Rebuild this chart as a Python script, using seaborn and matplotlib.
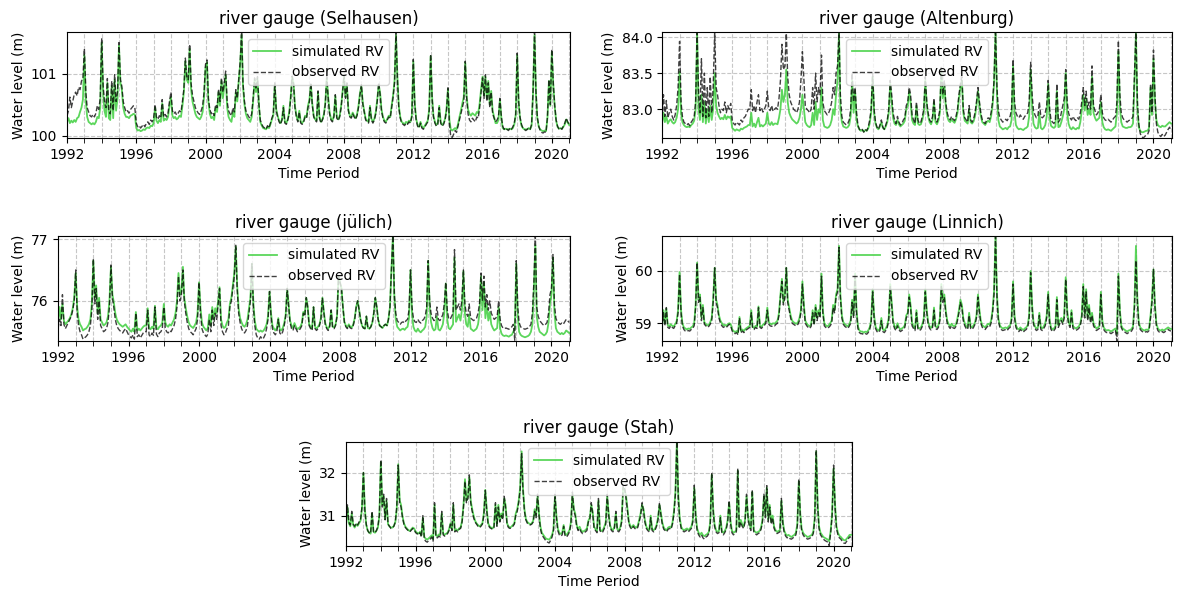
"""
5개 하천 수위 관측소의 모의(simulated) / 관측(observed) 수위 비교 그림.
값은 원본 그림에서 월 단위로 읽어낸 추정치입니다.
"""
import pandas as pd
import matplotlib.pyplot as plt
import matplotlib.dates as mdates
import seaborn as sns

# ---- 월별 수위 (1992-01 ~ 2021-01), 연도별 12개 값 ----------------------
selhausen_obs = [
    [100.32, 100.40, 100.62, 100.45, 100.55, 100.66, 100.70, 100.64, 100.78, 100.74, 100.88, 100.92],
    [101.40, 100.70, 100.45, 100.38, 100.32, 100.30, 100.34, 100.30, 100.36, 100.48, 100.42, 100.60],
    [101.57, 100.80, 100.55, 100.45, 100.92, 100.40, 100.35, 100.88, 100.40, 100.98, 100.55, 100.70],
    [101.50, 100.90, 100.80, 100.55, 100.45, 100.38, 100.40, 100.36, 100.42, 100.45, 100.48, 100.45],
    [100.20, 100.14, 100.16, 100.12, 100.15, 100.18, 100.14, 100.20, 100.22, 100.18, 100.25, 100.22],
    [100.28, 100.50, 100.30, 100.26, 100.32, 100.28, 100.58, 100.30, 100.34, 100.30, 100.36, 100.55],
    [100.70, 100.40, 100.35, 100.38, 100.33, 100.36, 100.40, 100.38, 100.55, 100.75, 101.25, 100.95],
    [100.90, 101.47, 100.85, 100.65, 100.55, 100.45, 100.40, 100.36, 100.34, 100.40, 100.48, 100.70],
    [101.15, 101.22, 100.60, 100.42, 100.35, 100.38, 100.32, 100.50, 100.45, 100.75, 100.55, 100.93],
    [100.70, 100.85, 101.04, 100.55, 100.40, 100.35, 100.32, 100.45, 100.38, 100.74, 100.60, 100.90],
    [101.20, 101.67, 100.85, 100.55, 100.40, 100.35, 100.30, 100.28, 100.35, 100.60, 100.93, 100.75],
    [100.95, 100.50, 100.25, 100.18, 100.14, 100.12, 100.10, 100.16, 100.12, 100.20, 100.28, 100.35],
    [100.85, 100.40, 100.30, 100.22, 100.18, 100.25, 100.45, 100.20, 100.18, 100.25, 100.35, 100.60],
    [100.96, 100.82, 100.45, 100.30, 100.22, 100.38, 100.20, 100.18, 100.22, 100.30, 100.28, 100.45],
    [100.55, 100.85, 100.50, 100.30, 100.25, 100.22, 100.72, 100.28, 100.20, 100.25, 100.32, 100.50],
    [100.95, 100.60, 100.35, 100.25, 100.22, 100.30, 100.66, 100.28, 100.24, 100.30, 100.45, 100.70],
    [100.98, 100.60, 100.85, 100.40, 100.30, 100.28, 100.35, 100.30, 100.26, 100.32, 100.45, 100.65],
    [100.82, 100.50, 100.38, 100.25, 100.22, 100.20, 100.45, 100.25, 100.20, 100.25, 100.35, 100.55],
    [100.85, 100.65, 100.40, 100.28, 100.22, 100.20, 100.25, 100.30, 100.28, 100.45, 100.62, 100.85],
    [101.67, 100.90, 100.45, 100.28, 100.20, 100.18, 100.16, 100.20, 100.18, 100.22, 100.20, 100.30],
    [101.23, 100.50, 100.25, 100.15, 100.12, 100.20, 100.12, 100.10, 100.14, 100.18, 100.22, 100.40],
    [101.31, 100.60, 100.30, 100.20, 100.15, 100.18, 100.45, 100.20, 100.15, 100.18, 100.25, 100.40],
    [100.77, 100.20, 99.98, 99.97, 100.02, 100.08, 100.05, 100.15, 100.25, 100.35, 100.45, 100.55],
    [101.20, 100.60, 100.35, 100.25, 100.22, 100.28, 100.25, 100.22, 100.30, 100.28, 100.45, 100.70],
    [100.93, 100.60, 100.98, 100.55, 100.85, 100.45, 100.70, 100.35, 100.28, 100.22, 100.25, 100.30],
    [100.60, 100.30, 100.15, 100.10, 100.12, 100.10, 100.08, 100.12, 100.10, 100.14, 100.20, 100.35],
    [101.33, 100.55, 100.30, 100.18, 100.12, 100.10, 100.08, 100.10, 100.12, 100.10, 100.18, 100.70],
    [101.67, 100.70, 100.30, 100.15, 100.08, 100.05, 100.04, 100.06, 100.05, 100.30, 100.90, 100.50],
    [101.39, 100.85, 100.50, 100.25, 100.15, 100.10, 100.12, 100.10, 100.15, 100.20, 100.28, 100.22],
    [100.18],
]
selhausen_sim = [
    [100.22, 100.28, 100.20, 100.24, 100.21, 100.25, 100.22, 100.28, 100.30, 100.38, 100.45, 100.58],
    [101.30, 100.55, 100.30, 100.22, 100.20, 100.18, 100.20, 100.18, 100.22, 100.30, 100.28, 100.45],
    [101.50, 100.70, 100.40, 100.30, 100.85, 100.28, 100.25, 100.80, 100.28, 100.90, 100.40, 100.60],
    [101.45, 100.85, 100.75, 100.45, 100.35, 100.30, 100.30, 100.28, 100.32, 100.33, 100.35, 100.34],
    [100.12, 100.08, 100.09, 100.07, 100.08, 100.10, 100.09, 100.12, 100.13, 100.12, 100.16, 100.15],
    [100.20, 100.45, 100.24, 100.20, 100.25, 100.22, 100.52, 100.24, 100.27, 100.25, 100.30, 100.48],
    [100.62, 100.32, 100.28, 100.30, 100.26, 100.28, 100.32, 100.30, 100.48, 100.70, 101.20, 100.90],
    [100.85, 101.40, 100.75, 100.55, 100.45, 100.35, 100.30, 100.28, 100.26, 100.30, 100.38, 100.62],
    [101.10, 101.18, 100.55, 100.35, 100.28, 100.30, 100.25, 100.45, 100.38, 100.70, 100.48, 100.88],
    [100.60, 100.80, 100.98, 100.45, 100.30, 100.25, 100.22, 100.38, 100.30, 100.70, 100.55, 100.88],
    [101.15, 101.62, 100.80, 100.50, 100.35, 100.28, 100.25, 100.22, 100.30, 100.55, 100.90, 100.70],
    [100.92, 100.48, 100.22, 100.16, 100.12, 100.11, 100.10, 100.14, 100.12, 100.18, 100.26, 100.32],
    [100.82, 100.42, 100.32, 100.24, 100.20, 100.26, 100.48, 100.22, 100.20, 100.26, 100.38, 100.62],
    [100.94, 100.84, 100.48, 100.32, 100.24, 100.40, 100.22, 100.20, 100.24, 100.32, 100.30, 100.48],
    [100.58, 100.82, 100.52, 100.32, 100.26, 100.24, 100.70, 100.30, 100.22, 100.26, 100.34, 100.52],
    [100.92, 100.62, 100.38, 100.27, 100.24, 100.32, 100.64, 100.30, 100.26, 100.32, 100.48, 100.72],
    [100.95, 100.62, 100.82, 100.42, 100.32, 100.30, 100.37, 100.32, 100.28, 100.34, 100.48, 100.68],
    [100.80, 100.52, 100.40, 100.27, 100.24, 100.22, 100.48, 100.27, 100.22, 100.27, 100.38, 100.58],
    [100.82, 100.68, 100.42, 100.30, 100.24, 100.22, 100.27, 100.32, 100.30, 100.48, 100.65, 100.88],
    [101.62, 100.92, 100.48, 100.30, 100.22, 100.20, 100.18, 100.22, 100.20, 100.24, 100.22, 100.32],
    [101.20, 100.52, 100.27, 100.17, 100.14, 100.22, 100.14, 100.12, 100.16, 100.20, 100.24, 100.42],
    [101.28, 100.62, 100.32, 100.22, 100.17, 100.20, 100.48, 100.22, 100.17, 100.20, 100.27, 100.42],
    [100.75, 100.25, 100.10, 100.08, 100.10, 100.12, 100.10, 100.18, 100.30, 100.40, 100.52, 100.62],
    [101.18, 100.62, 100.42, 100.35, 100.32, 100.36, 100.34, 100.32, 100.38, 100.36, 100.52, 100.75],
    [100.95, 100.65, 100.95, 100.60, 100.88, 100.50, 100.72, 100.40, 100.30, 100.20, 100.20, 100.25],
    [100.58, 100.28, 100.12, 100.10, 100.11, 100.10, 100.10, 100.11, 100.10, 100.12, 100.18, 100.33],
    [101.30, 100.52, 100.28, 100.16, 100.12, 100.10, 100.10, 100.10, 100.12, 100.10, 100.16, 100.68],
    [101.62, 100.68, 100.28, 100.14, 100.10, 100.08, 100.07, 100.08, 100.07, 100.28, 100.88, 100.48],
    [101.35, 100.82, 100.48, 100.24, 100.14, 100.11, 100.12, 100.11, 100.14, 100.18, 100.26, 100.21],
    [100.17],
]

altenburg_obs = [
    [82.85, 83.20, 82.90, 83.12, 82.88, 82.95, 83.00, 82.90, 82.85, 82.92, 83.05, 83.30],
    [83.94, 83.10, 82.90, 82.82, 82.80, 82.78, 82.80, 82.77, 82.82, 82.85, 82.90, 83.10],
    [84.06, 83.20, 82.95, 83.70, 82.90, 83.50, 82.88, 83.30, 82.90, 83.45, 82.95, 83.30],
    [84.06, 83.30, 83.20, 83.05, 82.95, 83.00, 82.98, 83.10, 82.95, 83.05, 83.00, 83.08],
    [82.85, 82.80, 82.78, 82.82, 82.80, 82.78, 82.85, 82.82, 82.88, 82.90, 82.95, 83.00],
    [83.00, 83.27, 82.98, 83.05, 82.95, 83.10, 83.20, 82.98, 83.02, 82.96, 83.00, 83.05],
    [83.25, 83.00, 82.98, 83.05, 82.97, 83.00, 83.02, 83.00, 83.15, 83.40, 83.90, 83.55],
    [83.60, 84.05, 83.45, 83.20, 83.10, 83.05, 83.00, 82.98, 82.95, 83.00, 83.10, 83.40],
    [83.80, 83.40, 83.05, 83.00, 82.98, 82.95, 83.00, 83.30, 83.00, 83.50, 83.10, 83.30],
    [83.20, 83.75, 83.10, 82.98, 82.95, 82.92, 82.95, 83.00, 83.10, 83.30, 83.20, 83.50],
    [83.60, 84.06, 83.20, 82.90, 82.82, 82.80, 82.78, 82.80, 82.85, 83.00, 83.50, 83.10],
    [83.30, 82.95, 82.78, 82.72, 82.70, 82.72, 82.68, 82.72, 82.70, 82.75, 82.85, 83.00],
    [83.50, 83.00, 82.82, 82.75, 82.72, 82.78, 82.85, 82.75, 82.72, 82.78, 82.85, 83.00],
    [83.40, 83.20, 82.95, 82.85, 82.80, 82.90, 82.82, 82.78, 82.80, 82.85, 82.88, 83.05],
    [83.10, 83.30, 83.20, 82.92, 82.85, 82.80, 83.10, 82.85, 82.80, 82.82, 82.90, 83.00],
    [83.45, 83.10, 82.95, 82.85, 82.82, 82.90, 83.15, 82.85, 82.82, 82.88, 83.00, 83.60],
    [83.20, 83.40, 83.10, 82.95, 82.88, 82.85, 82.90, 82.86, 82.84, 82.90, 83.00, 83.20],
    [83.35, 83.45, 83.00, 82.88, 82.85, 82.82, 83.05, 82.85, 82.82, 82.86, 82.95, 83.10],
    [83.30, 83.10, 82.95, 82.85, 82.82, 82.80, 82.85, 82.88, 82.86, 82.95, 83.10, 83.40],
    [84.06, 83.30, 82.98, 82.88, 82.85, 82.82, 82.84, 82.86, 82.84, 82.88, 82.90, 83.00],
    [83.69, 83.10, 82.95, 82.90, 82.88, 82.92, 82.88, 82.86, 82.90, 82.92, 82.95, 83.10],
    [83.65, 83.20, 82.98, 82.92, 82.88, 82.90, 83.10, 82.90, 82.88, 82.90, 82.95, 83.05],
    [83.40, 83.00, 82.85, 82.82, 82.80, 82.85, 83.35, 82.82, 82.85, 82.95, 83.05, 83.15],
    [83.55, 83.10, 82.95, 82.88, 82.85, 82.90, 82.86, 82.84, 82.88, 82.86, 82.95, 83.10],
    [83.30, 83.05, 83.25, 83.00, 83.10, 83.00, 83.60, 83.05, 82.98, 82.92, 82.95, 83.00],
    [83.20, 82.95, 82.88, 82.85, 82.84, 82.86, 82.84, 82.82, 82.85, 82.88, 82.90, 83.10],
    [83.95, 83.20, 82.95, 82.88, 82.85, 82.84, 82.82, 82.84, 82.85, 82.86, 82.90, 83.45],
    [84.06, 83.10, 82.80, 82.66, 82.62, 82.60, 82.62, 82.64, 82.65, 82.70, 83.35, 82.95],
    [83.82, 83.20, 82.80, 82.68, 82.64, 82.62, 82.65, 82.62, 82.64, 82.68, 82.72, 82.75],
    [82.70],
]
altenburg_sim = [
    [82.80, 82.95, 82.82, 82.90, 82.80, 82.84, 82.86, 82.82, 82.80, 82.82, 82.88, 83.00],
    [83.52, 82.95, 82.82, 82.78, 82.76, 82.75, 82.76, 82.75, 82.78, 82.80, 82.84, 83.00],
    [84.06, 83.00, 82.85, 83.20, 82.82, 83.10, 82.80, 83.00, 82.82, 83.05, 82.85, 83.00],
    [83.50, 83.05, 82.95, 82.90, 82.86, 82.88, 82.86, 82.92, 82.86, 82.90, 82.88, 82.90],
    [82.74, 82.72, 82.70, 82.72, 82.71, 82.70, 82.73, 82.72, 82.74, 82.75, 82.76, 82.78],
    [82.78, 82.95, 82.76, 82.80, 82.75, 82.82, 82.88, 82.76, 82.78, 82.76, 82.78, 82.80],
    [82.95, 82.80, 82.78, 82.82, 82.78, 82.80, 82.80, 82.79, 82.88, 83.00, 83.27, 83.10],
    [83.20, 83.55, 83.10, 82.95, 82.90, 82.86, 82.84, 82.82, 82.80, 82.82, 82.88, 83.00],
    [83.20, 83.00, 82.82, 82.78, 82.76, 82.75, 82.78, 82.95, 82.78, 83.10, 82.85, 83.00],
    [82.95, 83.30, 82.85, 82.76, 82.75, 82.74, 82.75, 82.78, 82.85, 83.00, 82.92, 83.20],
    [83.40, 84.06, 83.00, 82.82, 82.76, 82.75, 82.74, 82.75, 82.78, 82.90, 83.40, 82.95],
    [83.25, 82.85, 82.76, 82.72, 82.70, 82.71, 82.69, 82.71, 82.70, 82.73, 82.80, 82.95],
    [83.45, 82.95, 82.80, 82.74, 82.72, 82.76, 82.82, 82.74, 82.72, 82.76, 82.82, 82.95],
    [83.35, 83.10, 82.88, 82.80, 82.78, 82.85, 82.79, 82.76, 82.78, 82.80, 82.84, 83.00],
    [83.05, 83.25, 83.10, 82.85, 82.80, 82.78, 83.05, 82.80, 82.78, 82.79, 82.85, 82.95],
    [83.40, 83.05, 82.90, 82.82, 82.79, 82.85, 83.10, 82.82, 82.79, 82.84, 82.95, 83.55],
    [83.15, 83.35, 83.05, 82.90, 82.84, 82.82, 82.86, 82.83, 82.81, 82.86, 82.95, 83.15],
    [83.30, 83.40, 82.95, 82.84, 82.82, 82.80, 83.00, 82.82, 82.80, 82.83, 82.90, 83.05],
    [83.25, 83.05, 82.90, 82.82, 82.80, 82.78, 82.82, 82.84, 82.82, 82.90, 83.05, 83.35],
    [84.06, 83.20, 82.85, 82.76, 82.74, 82.72, 82.73, 82.74, 82.72, 82.75, 82.76, 82.85],
    [83.60, 82.95, 82.78, 82.74, 82.72, 82.73, 82.72, 82.71, 82.73, 82.74, 82.76, 82.90],
    [83.55, 83.05, 82.80, 82.75, 82.73, 82.74, 82.95, 82.74, 82.72, 82.74, 82.78, 82.90],
    [83.35, 82.88, 82.77, 82.75, 82.74, 82.76, 83.25, 82.75, 82.76, 82.82, 82.90, 83.00],
    [83.50, 82.95, 82.80, 82.74, 82.72, 82.75, 82.73, 82.72, 82.74, 82.73, 82.82, 82.98],
    [83.20, 82.98, 83.15, 82.92, 83.00, 82.92, 83.45, 82.95, 82.88, 82.84, 82.86, 82.88],
    [83.10, 82.82, 82.75, 82.72, 82.71, 82.72, 82.71, 82.70, 82.72, 82.74, 82.76, 82.95],
    [83.80, 83.05, 82.82, 82.76, 82.75, 82.74, 82.74, 82.75, 82.75, 82.76, 82.80, 83.35],
    [84.06, 83.00, 82.75, 82.70, 82.68, 82.68, 82.69, 82.70, 82.70, 82.74, 83.30, 82.92],
    [83.70, 83.10, 82.85, 82.78, 82.76, 82.75, 82.77, 82.76, 82.76, 82.78, 82.80, 82.82],
    [82.80],
]

juelich_obs = [
    [75.55, 75.70, 75.60, 76.10, 75.62, 75.55, 75.60, 75.65, 75.70, 75.75, 75.85, 76.00],
    [76.50, 75.80, 75.60, 75.50, 75.45, 75.38, 75.40, 75.42, 75.45, 75.50, 75.60, 75.85],
    [76.68, 75.95, 76.20, 75.70, 76.00, 75.60, 75.55, 75.50, 75.52, 75.55, 75.65, 75.90],
    [76.58, 76.05, 75.90, 75.70, 75.60, 75.55, 75.52, 75.50, 75.48, 75.52, 75.55, 75.50],
    [75.45, 75.42, 75.40, 75.45, 75.38, 75.80, 75.42, 75.45, 75.40, 75.44, 75.48, 75.50],
    [75.50, 75.85, 75.45, 75.42, 75.48, 75.44, 75.90, 75.46, 75.42, 75.48, 75.50, 75.55],
    [75.90, 75.55, 75.50, 75.48, 75.52, 75.50, 75.55, 75.60, 75.70, 75.90, 76.40, 76.00],
    [76.10, 76.50, 76.00, 75.80, 75.65, 75.55, 75.50, 75.48, 75.45, 75.50, 75.55, 75.70],
    [76.30, 75.80, 75.55, 75.48, 75.45, 75.42, 75.46, 75.70, 75.50, 75.85, 75.60, 75.80],
    [75.70, 75.95, 76.20, 75.60, 75.50, 75.45, 75.48, 75.55, 75.60, 75.90, 76.00, 76.20],
    [76.40, 76.90, 76.20, 75.80, 75.65, 75.55, 75.50, 75.48, 75.52, 75.60, 75.80, 76.00],
    [76.60, 75.90, 75.60, 75.45, 75.40, 75.38, 75.42, 75.38, 75.40, 75.45, 75.55, 75.70],
    [76.15, 75.75, 75.55, 75.48, 75.45, 75.50, 75.70, 75.48, 75.45, 75.50, 75.60, 75.75],
    [76.20, 75.90, 75.65, 75.55, 75.52, 75.60, 75.55, 75.50, 75.52, 75.55, 75.60, 75.80],
    [75.75, 76.05, 75.90, 75.60, 75.55, 75.52, 75.90, 75.55, 75.52, 75.55, 75.60, 75.70],
    [76.05, 75.80, 75.62, 75.55, 75.52, 75.58, 75.85, 75.56, 75.55, 75.60, 75.75, 76.40],
    [76.30, 76.20, 75.90, 75.65, 75.58, 75.55, 75.60, 75.56, 75.55, 75.60, 75.70, 75.90],
    [76.00, 75.85, 75.70, 75.60, 75.56, 75.55, 75.75, 75.56, 75.55, 75.58, 75.65, 75.80],
    [76.05, 75.90, 75.70, 75.60, 75.58, 75.56, 75.60, 75.62, 75.60, 75.70, 75.90, 76.50],
    [77.05, 76.10, 75.80, 75.68, 75.65, 75.62, 75.65, 75.66, 75.64, 75.68, 75.70, 75.85],
    [76.50, 75.90, 75.72, 75.66, 75.65, 75.70, 75.66, 75.64, 75.68, 75.70, 75.75, 75.90],
    [76.65, 76.00, 75.80, 75.72, 75.68, 75.70, 75.90, 75.70, 75.68, 75.72, 75.78, 75.95],
    [76.30, 75.85, 75.72, 75.70, 75.75, 75.80, 76.83, 75.85, 75.90, 75.95, 75.85, 76.00],
    [76.50, 75.95, 75.80, 75.75, 75.95, 75.72, 75.70, 75.68, 75.70, 75.72, 75.80, 75.95],
    [76.45, 76.00, 76.40, 75.90, 76.10, 75.85, 76.00, 75.80, 75.75, 75.70, 75.72, 75.75],
    [76.00, 75.70, 75.60, 75.56, 75.55, 75.56, 75.55, 75.54, 75.56, 75.58, 75.62, 75.36],
    [76.65, 75.90, 75.65, 75.58, 75.56, 75.55, 75.54, 75.55, 75.56, 75.58, 75.62, 75.80],
    [76.30, 77.05, 75.90, 75.75, 75.68, 75.65, 75.62, 75.60, 75.62, 75.65, 75.80, 76.10],
    [76.20, 76.75, 75.95, 75.72, 75.66, 75.64, 75.62, 75.64, 75.62, 75.66, 75.70, 75.68],
    [75.65],
]
juelich_sim = [
    [75.65, 75.90, 75.70, 75.95, 75.68, 75.62, 75.65, 75.68, 75.72, 75.78, 75.88, 76.05],
    [76.45, 75.90, 75.70, 75.62, 75.58, 75.52, 75.54, 75.55, 75.58, 75.62, 75.70, 75.95],
    [76.65, 76.05, 76.25, 75.80, 76.05, 75.70, 75.65, 75.60, 75.62, 75.65, 75.75, 76.00],
    [76.55, 76.10, 75.98, 75.80, 75.70, 75.65, 75.62, 75.60, 75.58, 75.60, 75.62, 75.58],
    [75.55, 75.52, 75.50, 75.55, 75.50, 75.82, 75.52, 75.55, 75.52, 75.55, 75.58, 75.60],
    [75.60, 75.88, 75.56, 75.54, 75.58, 75.55, 75.92, 75.56, 75.54, 75.58, 75.60, 75.65],
    [75.95, 75.65, 75.60, 75.58, 75.62, 75.60, 75.65, 75.70, 75.80, 76.00, 76.45, 76.10],
    [76.15, 76.55, 76.05, 75.88, 75.75, 75.65, 75.60, 75.58, 75.56, 75.60, 75.65, 75.80],
    [76.30, 75.88, 75.65, 75.58, 75.55, 75.52, 75.56, 75.78, 75.60, 75.90, 75.70, 75.88],
    [75.80, 76.00, 76.22, 75.70, 75.60, 75.56, 75.58, 75.65, 75.70, 75.95, 76.05, 76.25],
    [76.45, 76.88, 76.25, 75.88, 75.72, 75.65, 75.60, 75.58, 75.62, 75.70, 75.88, 76.05],
    [76.60, 75.95, 75.68, 75.55, 75.52, 75.50, 75.52, 75.50, 75.52, 75.56, 75.62, 75.75],
    [76.15, 75.80, 75.60, 75.55, 75.52, 75.56, 75.72, 75.54, 75.52, 75.56, 75.64, 75.78],
    [76.20, 75.92, 75.68, 75.60, 75.56, 75.64, 75.58, 75.54, 75.56, 75.58, 75.64, 75.82],
    [75.78, 76.05, 75.92, 75.62, 75.58, 75.55, 75.90, 75.58, 75.55, 75.58, 75.62, 75.72],
    [76.05, 75.82, 75.64, 75.57, 75.55, 75.60, 75.85, 75.58, 75.57, 75.62, 75.76, 76.40],
    [76.30, 76.20, 75.90, 75.66, 75.60, 75.57, 75.62, 75.58, 75.57, 75.62, 75.72, 75.90],
    [76.00, 75.85, 75.70, 75.60, 75.56, 75.55, 75.75, 75.56, 75.55, 75.58, 75.65, 75.80],
    [76.05, 75.90, 75.70, 75.60, 75.58, 75.56, 75.60, 75.62, 75.60, 75.70, 75.90, 76.50],
    [77.05, 76.05, 75.70, 75.58, 75.55, 75.52, 75.54, 75.55, 75.53, 75.56, 75.58, 75.72],
    [76.50, 75.80, 75.58, 75.52, 75.50, 75.55, 75.51, 75.49, 75.52, 75.54, 75.58, 75.75],
    [76.65, 75.90, 75.66, 75.56, 75.52, 75.54, 75.75, 75.54, 75.52, 75.56, 75.62, 75.80],
    [76.28, 75.70, 75.56, 75.54, 75.58, 75.62, 76.70, 75.66, 75.72, 75.78, 75.68, 75.85],
    [76.48, 75.80, 75.62, 75.58, 75.78, 75.55, 75.53, 75.51, 75.53, 75.55, 75.62, 75.80],
    [76.40, 75.85, 76.30, 75.72, 75.95, 75.68, 75.82, 75.62, 75.56, 75.52, 75.54, 75.56],
    [75.90, 75.55, 75.47, 75.44, 75.43, 75.44, 75.43, 75.42, 75.44, 75.45, 75.50, 75.55],
    [76.60, 75.75, 75.50, 75.45, 75.43, 75.42, 75.41, 75.42, 75.43, 75.45, 75.50, 75.62],
    [76.20, 76.90, 75.75, 75.58, 75.50, 75.48, 75.46, 75.44, 75.46, 75.50, 75.65, 75.95],
    [76.10, 76.70, 75.82, 75.56, 75.50, 75.48, 75.46, 75.48, 75.46, 75.48, 75.52, 75.50],
    [75.48],
]

linnich_obs = [
    [58.90, 59.20, 58.95, 59.30, 58.92, 58.90, 58.95, 58.92, 58.90, 58.95, 59.00, 59.20],
    [59.94, 59.20, 58.95, 58.88, 58.85, 58.84, 58.86, 58.85, 58.88, 58.90, 58.95, 59.30],
    [60.16, 59.40, 59.50, 59.05, 59.30, 58.98, 58.95, 58.92, 58.94, 58.98, 59.05, 59.40],
    [60.06, 59.40, 59.30, 59.10, 59.00, 58.95, 58.92, 58.94, 58.92, 58.95, 58.98, 58.95],
    [58.85, 58.82, 58.80, 58.82, 58.78, 59.10, 58.82, 58.85, 58.82, 58.86, 58.88, 58.90],
    [58.92, 59.20, 58.90, 58.88, 58.92, 58.90, 59.30, 58.92, 58.90, 58.94, 58.96, 59.00],
    [59.25, 58.98, 58.95, 58.94, 58.96, 58.95, 58.98, 59.00, 59.15, 59.50, 59.80, 59.35],
    [59.50, 60.06, 59.40, 59.25, 59.10, 59.00, 58.98, 58.96, 58.95, 58.98, 59.05, 59.20],
    [59.75, 59.30, 59.00, 58.95, 58.92, 58.90, 58.94, 59.20, 58.96, 59.30, 59.05, 59.20],
    [59.10, 59.90, 59.20, 58.95, 58.92, 58.90, 58.92, 58.95, 59.00, 59.30, 59.20, 59.50],
    [59.60, 60.45, 59.50, 59.10, 58.98, 58.94, 58.92, 58.90, 58.94, 59.00, 59.40, 59.10],
    [59.90, 59.20, 58.90, 58.82, 58.80, 58.80, 58.78, 58.80, 58.79, 58.82, 58.88, 59.00],
    [59.60, 59.10, 58.90, 58.84, 58.82, 58.86, 59.05, 58.84, 58.82, 58.86, 58.92, 59.05],
    [59.70, 59.35, 59.00, 58.90, 58.86, 58.95, 58.88, 58.84, 58.86, 58.88, 58.92, 59.10],
    [59.15, 59.50, 59.30, 58.95, 58.90, 58.86, 59.20, 58.88, 58.86, 58.88, 58.94, 59.05],
    [59.60, 59.20, 58.98, 58.90, 58.87, 58.92, 59.25, 58.90, 58.88, 58.92, 59.05, 59.70],
    [59.40, 59.50, 59.20, 59.00, 58.94, 58.90, 58.95, 58.91, 58.90, 58.94, 59.05, 59.20],
    [59.40, 59.30, 59.05, 58.95, 58.90, 58.88, 59.15, 58.90, 58.88, 58.92, 58.98, 59.10],
    [59.50, 59.20, 59.00, 58.92, 58.90, 58.88, 58.92, 58.95, 58.93, 59.00, 59.20, 59.55],
    [60.66, 59.50, 59.05, 58.92, 58.88, 58.86, 58.87, 58.88, 58.86, 58.90, 58.92, 59.05],
    [59.75, 59.10, 58.92, 58.86, 58.84, 58.88, 58.85, 58.83, 58.86, 58.88, 58.92, 59.10],
    [59.97, 59.30, 58.98, 58.90, 58.86, 58.88, 59.15, 58.88, 58.86, 58.90, 58.95, 59.10],
    [59.55, 59.00, 58.88, 58.84, 58.86, 58.90, 59.45, 58.92, 59.00, 59.05, 58.98, 59.10],
    [59.84, 59.20, 58.98, 58.92, 59.20, 58.90, 58.88, 58.86, 58.88, 58.90, 58.96, 59.10],
    [59.70, 59.10, 59.60, 59.05, 59.30, 59.00, 59.15, 58.95, 58.90, 58.86, 58.88, 58.90],
    [59.55, 59.00, 58.88, 58.84, 58.82, 58.83, 58.82, 58.80, 58.82, 58.84, 58.86, 58.66],
    [59.90, 59.20, 58.92, 58.86, 58.84, 58.82, 58.80, 58.82, 58.83, 58.85, 58.90, 59.30],
    [60.20, 59.40, 58.98, 58.88, 58.85, 58.83, 58.82, 58.84, 58.83, 58.86, 59.10, 59.40],
    [60.03, 59.30, 58.95, 58.86, 58.83, 58.82, 58.84, 58.82, 58.84, 58.86, 58.88, 58.86],
    [58.85],
]
linnich_sim = [
    [58.95, 59.25, 59.00, 59.28, 58.96, 58.94, 58.98, 58.95, 58.94, 58.98, 59.04, 59.25],
    [59.98, 59.25, 59.00, 58.92, 58.90, 58.88, 58.90, 58.89, 58.92, 58.94, 59.00, 59.35],
    [60.16, 59.45, 59.55, 59.10, 59.35, 59.02, 58.98, 58.96, 58.97, 59.02, 59.10, 59.45],
    [60.06, 59.45, 59.35, 59.15, 59.05, 59.00, 58.96, 58.97, 58.95, 58.98, 59.00, 58.98],
    [58.88, 58.85, 58.83, 58.85, 58.82, 59.12, 58.85, 58.88, 58.85, 58.89, 58.91, 58.93],
    [58.95, 59.25, 58.93, 58.91, 58.95, 58.93, 59.32, 58.95, 58.93, 58.97, 58.99, 59.04],
    [59.30, 59.02, 58.99, 58.98, 59.00, 58.99, 59.02, 59.05, 59.20, 59.55, 59.85, 59.40],
    [59.55, 60.06, 59.45, 59.30, 59.15, 59.05, 59.02, 59.00, 58.99, 59.02, 59.10, 59.25],
    [59.80, 59.35, 59.05, 58.99, 58.96, 58.94, 58.98, 59.25, 59.00, 59.35, 59.10, 59.25],
    [59.15, 59.95, 59.25, 59.00, 58.96, 58.94, 58.96, 59.00, 59.05, 59.35, 59.25, 59.55],
    [59.65, 60.48, 59.55, 59.15, 59.02, 58.98, 58.96, 58.94, 58.98, 59.05, 59.45, 59.15],
    [59.95, 59.25, 58.94, 58.86, 58.84, 58.84, 58.82, 58.84, 58.83, 58.86, 58.92, 59.05],
    [59.65, 59.15, 58.94, 58.88, 58.86, 58.90, 59.10, 58.88, 58.86, 58.90, 58.96, 59.10],
    [59.75, 59.40, 59.05, 58.94, 58.90, 59.00, 58.92, 58.88, 58.90, 58.92, 58.96, 59.15],
    [59.20, 59.55, 59.35, 59.00, 58.94, 58.90, 59.25, 58.92, 58.90, 58.92, 58.98, 59.10],
    [59.65, 59.25, 59.02, 58.94, 58.91, 58.96, 59.30, 58.94, 58.92, 58.96, 59.10, 59.75],
    [59.45, 59.55, 59.25, 59.05, 58.98, 58.94, 58.99, 58.95, 58.94, 58.98, 59.10, 59.25],
    [59.45, 59.35, 59.10, 59.00, 58.94, 58.92, 59.20, 58.94, 58.92, 58.96, 59.02, 59.15],
    [59.55, 59.25, 59.05, 58.96, 58.94, 58.92, 58.96, 58.99, 58.97, 59.05, 59.25, 59.60],
    [60.66, 59.55, 59.10, 58.96, 58.92, 58.90, 58.91, 58.92, 58.90, 58.94, 58.96, 59.10],
    [59.80, 59.15, 58.96, 58.90, 58.88, 58.92, 58.89, 58.87, 58.90, 58.92, 58.96, 59.15],
    [60.00, 59.35, 59.02, 58.94, 58.90, 58.92, 59.20, 58.92, 58.90, 58.94, 59.00, 59.15],
    [59.60, 59.05, 58.92, 58.88, 58.90, 58.94, 59.50, 58.96, 59.05, 59.10, 59.02, 59.15],
    [59.88, 59.25, 59.02, 58.96, 59.25, 58.94, 58.92, 58.90, 58.92, 58.94, 59.00, 59.15],
    [59.75, 59.15, 59.65, 59.10, 59.35, 59.05, 59.20, 59.00, 58.94, 58.90, 58.92, 58.94],
    [59.60, 59.05, 58.92, 58.88, 58.86, 58.87, 58.86, 58.84, 58.86, 58.88, 58.90, 58.80],
    [59.95, 59.25, 58.96, 58.90, 58.88, 58.86, 58.84, 58.86, 58.87, 58.89, 58.94, 59.35],
    [60.48, 59.45, 59.02, 58.92, 58.89, 58.87, 58.86, 58.88, 58.87, 58.90, 59.15, 59.45],
    [60.03, 59.35, 59.00, 58.90, 58.87, 58.86, 58.88, 58.86, 58.88, 58.90, 58.92, 58.90],
    [58.89],
]

stah_obs = [
    [30.80, 31.25, 30.85, 30.78, 31.10, 30.80, 30.75, 30.82, 30.78, 30.85, 30.90, 31.20],
    [32.00, 31.10, 30.80, 30.65, 30.60, 30.58, 31.10, 30.62, 30.60, 30.65, 30.75, 31.00],
    [32.30, 31.20, 31.50, 30.90, 31.40, 30.80, 30.75, 30.70, 30.72, 30.75, 30.85, 31.20],
    [32.18, 31.30, 31.20, 30.95, 30.80, 30.72, 30.68, 30.65, 30.62, 30.66, 30.70, 30.68],
    [30.60, 30.58, 30.55, 30.60, 30.50, 31.00, 30.45, 30.40, 30.38, 30.42, 30.45, 30.50],
    [30.40, 31.30, 30.50, 30.48, 30.52, 30.50, 31.10, 30.55, 30.52, 30.55, 30.58, 30.65],
    [30.80, 30.65, 31.30, 30.62, 30.65, 30.62, 30.68, 30.70, 30.85, 31.20, 31.80, 31.30],
    [31.40, 31.95, 31.30, 31.10, 30.95, 30.85, 30.80, 30.75, 30.72, 30.75, 30.80, 31.00],
    [31.59, 31.10, 30.80, 30.72, 30.70, 30.68, 30.72, 31.30, 30.75, 31.20, 30.85, 31.00],
    [30.90, 31.45, 31.20, 30.80, 30.72, 30.70, 30.72, 30.75, 30.80, 31.00, 31.10, 31.30],
    [31.60, 32.45, 31.60, 31.10, 30.90, 30.82, 30.80, 30.78, 30.80, 30.85, 31.10, 30.95],
    [31.50, 31.00, 30.70, 30.55, 30.50, 30.45, 30.40, 30.38, 30.36, 30.42, 30.50, 30.65],
    [31.50, 30.95, 30.65, 30.55, 30.52, 30.55, 30.75, 30.52, 30.50, 30.55, 30.62, 30.80],
    [31.55, 31.10, 31.00, 30.75, 30.65, 30.70, 30.62, 30.58, 30.60, 30.62, 30.65, 30.85],
    [30.90, 31.30, 31.05, 30.70, 30.65, 30.60, 31.40, 30.65, 30.60, 30.62, 30.70, 30.80],
    [31.50, 31.00, 30.75, 30.65, 30.62, 30.70, 31.10, 30.65, 30.62, 30.68, 30.85, 31.70],
    [31.65, 31.40, 31.10, 30.80, 30.72, 30.68, 30.75, 30.70, 30.68, 30.72, 30.85, 31.00],
    [31.30, 31.10, 30.85, 30.70, 30.65, 30.62, 30.95, 30.65, 30.62, 30.66, 30.75, 30.90],
    [31.30, 31.00, 30.80, 30.68, 30.65, 30.62, 30.68, 30.70, 30.68, 30.80, 31.05, 31.50],
    [32.73, 31.40, 30.90, 30.70, 30.65, 30.62, 30.64, 30.66, 30.62, 30.66, 30.70, 30.85],
    [31.71, 30.95, 30.65, 30.55, 30.50, 30.55, 30.48, 30.45, 30.50, 30.52, 30.58, 30.80],
    [32.00, 31.10, 30.75, 30.62, 30.58, 30.60, 30.95, 30.60, 30.55, 30.60, 30.68, 30.85],
    [31.35, 30.80, 30.60, 30.55, 30.58, 30.62, 32.10, 30.70, 30.85, 30.75, 30.70, 30.85],
    [31.50, 30.95, 30.75, 30.65, 31.60, 30.62, 30.58, 30.55, 30.58, 30.60, 30.68, 30.85],
    [31.50, 30.95, 31.70, 30.85, 31.20, 30.80, 30.95, 30.70, 30.62, 30.58, 30.60, 30.62],
    [31.40, 30.80, 30.60, 30.52, 30.48, 30.50, 30.46, 30.45, 30.48, 30.50, 30.55, 30.75],
    [31.85, 31.00, 30.65, 30.55, 30.50, 30.48, 30.45, 30.46, 30.48, 30.50, 30.58, 30.90],
    [32.53, 31.20, 30.70, 30.55, 30.50, 30.45, 30.42, 30.40, 30.38, 30.30, 30.60, 31.00],
    [32.18, 31.20, 30.70, 30.55, 30.48, 30.45, 30.40, 30.36, 30.35, 30.40, 30.45, 30.50],
    [30.50],
]
stah_sim = [
    [30.78, 31.20, 30.82, 30.75, 31.05, 30.78, 30.72, 30.80, 30.76, 30.82, 30.88, 31.15],
    [32.00, 31.15, 30.78, 30.65, 30.60, 30.58, 31.05, 30.62, 30.60, 30.65, 30.72, 31.00],
    [32.25, 31.25, 31.45, 30.92, 31.35, 30.80, 30.75, 30.72, 30.72, 30.76, 30.85, 31.15],
    [32.20, 31.35, 31.25, 30.98, 30.82, 30.74, 30.70, 30.66, 30.64, 30.68, 30.72, 30.70],
    [30.62, 30.60, 30.58, 30.62, 30.54, 30.95, 30.50, 30.46, 30.44, 30.47, 30.50, 30.54],
    [30.45, 31.25, 30.54, 30.52, 30.56, 30.54, 31.05, 30.58, 30.55, 30.58, 30.60, 30.68],
    [30.82, 30.68, 31.25, 30.65, 30.68, 30.65, 30.70, 30.72, 30.88, 31.25, 31.85, 31.35],
    [31.45, 31.90, 31.35, 31.15, 31.00, 30.88, 30.82, 30.78, 30.75, 30.78, 30.82, 31.05],
    [31.60, 31.15, 30.82, 30.75, 30.72, 30.70, 30.75, 31.25, 30.78, 31.25, 30.88, 31.05],
    [30.95, 31.40, 31.25, 30.82, 30.75, 30.72, 30.74, 30.78, 30.82, 31.05, 31.15, 31.35],
    [31.65, 32.50, 31.65, 31.15, 30.92, 30.85, 30.82, 30.80, 30.82, 30.88, 31.15, 31.00],
    [31.45, 31.05, 30.75, 30.60, 30.55, 30.50, 30.46, 30.45, 30.44, 30.48, 30.55, 30.68],
    [31.45, 31.00, 30.70, 30.60, 30.57, 30.60, 30.78, 30.57, 30.55, 30.60, 30.66, 30.85],
    [31.50, 31.15, 31.05, 30.78, 30.68, 30.74, 30.66, 30.62, 30.64, 30.66, 30.70, 30.88],
    [30.95, 31.25, 31.10, 30.74, 30.68, 30.64, 31.35, 30.68, 30.64, 30.66, 30.74, 30.85],
    [31.45, 31.05, 30.78, 30.68, 30.66, 30.74, 31.05, 30.68, 30.66, 30.72, 30.90, 31.65],
    [31.60, 31.45, 31.15, 30.84, 30.76, 30.72, 30.78, 30.74, 30.72, 30.76, 30.90, 31.05],
    [31.25, 31.15, 30.90, 30.74, 30.68, 30.66, 31.00, 30.68, 30.66, 30.70, 30.78, 30.95],
    [31.25, 31.05, 30.84, 30.72, 30.68, 30.66, 30.72, 30.74, 30.72, 30.84, 31.10, 31.55],
    [32.73, 31.45, 30.95, 30.74, 30.68, 30.66, 30.68, 30.70, 30.66, 30.70, 30.74, 30.90],
    [31.65, 31.00, 30.70, 30.60, 30.55, 30.60, 30.54, 30.52, 30.55, 30.57, 30.62, 30.85],
    [31.95, 31.15, 30.80, 30.66, 30.62, 30.64, 31.00, 30.64, 30.60, 30.64, 30.72, 30.90],
    [31.30, 30.85, 30.65, 30.60, 30.62, 30.66, 32.05, 30.74, 30.90, 30.80, 30.74, 30.90],
    [31.45, 31.00, 30.80, 30.70, 31.55, 30.66, 30.62, 30.60, 30.62, 30.64, 30.72, 30.90],
    [31.45, 31.00, 31.65, 30.90, 31.25, 30.85, 31.00, 30.74, 30.66, 30.62, 30.64, 30.66],
    [31.35, 30.85, 30.65, 30.57, 30.53, 30.55, 30.52, 30.50, 30.53, 30.55, 30.60, 30.80],
    [31.80, 31.05, 30.70, 30.60, 30.55, 30.53, 30.50, 30.51, 30.53, 30.55, 30.62, 30.95],
    [32.50, 31.25, 30.75, 30.60, 30.55, 30.50, 30.48, 30.46, 30.44, 30.40, 30.65, 31.05],
    [32.10, 31.25, 30.75, 30.60, 30.53, 30.50, 30.46, 30.43, 30.42, 30.46, 30.50, 30.55],
    [30.55],
]

station_names = ['Selhausen', 'Altenburg', 'jülich', 'Linnich', 'Stah']
y_limits = [(99.96, 101.67), (82.60, 84.07), (75.35, 77.05), (58.66, 60.67), (30.29, 32.73)]
y_ticks = [[100, 101], [83.0, 83.5, 84.0], [76, 77], [59, 60], [31, 32]]
y_tick_labels = [['100', '101'], ['83.0', '83.5', '84.0'], ['76', '77'], ['59', '60'], ['31', '32']]

SIM_COLOR = '#3fcf3f'


def _flatten(rows):
    return [v for row in rows for v in row]


dates = pd.date_range('1992-01-01', periods=29 * 12 + 1, freq='MS')

series = [
    (selhausen_obs, selhausen_sim),
    (altenburg_obs, altenburg_sim),
    (juelich_obs, juelich_sim),
    (linnich_obs, linnich_sim),
    (stah_obs, stah_sim),
]

# 축 위치 (원본 레이아웃에 맞춘 figure 좌표)
axes_rects = [
    [0.0568, 0.7669, 0.4263, 0.1790],
    [0.5610, 0.7669, 0.4322, 0.1790],
    [0.0492, 0.4240, 0.4339, 0.1774],
    [0.5610, 0.4240, 0.4322, 0.1774],
    [0.2932, 0.0777, 0.4288, 0.1765],
]

fig = plt.figure(figsize=(11.8, 5.92), dpi=100)

for i, (name, (obs_rows, sim_rows)) in enumerate(zip(station_names, series)):
    ax = fig.add_axes(axes_rects[i])
    df = pd.DataFrame({
        'date': dates,
        'observed': _flatten(obs_rows),
        'simulated': _flatten(sim_rows),
    })
    sns.lineplot(data=df, x='date', y='simulated', ax=ax, color=SIM_COLOR,
                 linewidth=1.3, alpha=0.85, label='simulated RV')
    sns.lineplot(data=df, x='date', y='observed', ax=ax, color='black',
                 linestyle='--', linewidth=1.0, alpha=0.75, label='observed RV')

    ax.set_xlim(pd.Timestamp('1992-01-01'), pd.Timestamp('2021-01-20'))
    ax.set_ylim(*y_limits[i])
    ax.set_yticks(y_ticks[i])
    ax.set_yticklabels(y_tick_labels[i])

    ax.xaxis.set_major_locator(mdates.YearLocator(4))
    ax.xaxis.set_minor_locator(mdates.YearLocator(1))
    ax.xaxis.set_major_formatter(mdates.DateFormatter('%Y'))
    ax.tick_params(axis='both', which='major', labelsize=10)
    ax.tick_params(axis='x', which='minor', length=3.5)

    ax.grid(True, which='both', axis='x', linestyle='--', color='#b0b0b0', alpha=0.7)
    ax.grid(True, which='major', axis='y', linestyle='--', color='#b0b0b0', alpha=0.7)

    ax.set_title(f'river gauge ({name})', fontsize=12)
    ax.set_xlabel('Time Period', fontsize=10)
    ax.set_ylabel('Water level (m)', fontsize=10)
    ax.legend(loc='upper center', fontsize=10)

plt.savefig('out.png', dpi=100)
plt.close()
print("[OK] out.png")
